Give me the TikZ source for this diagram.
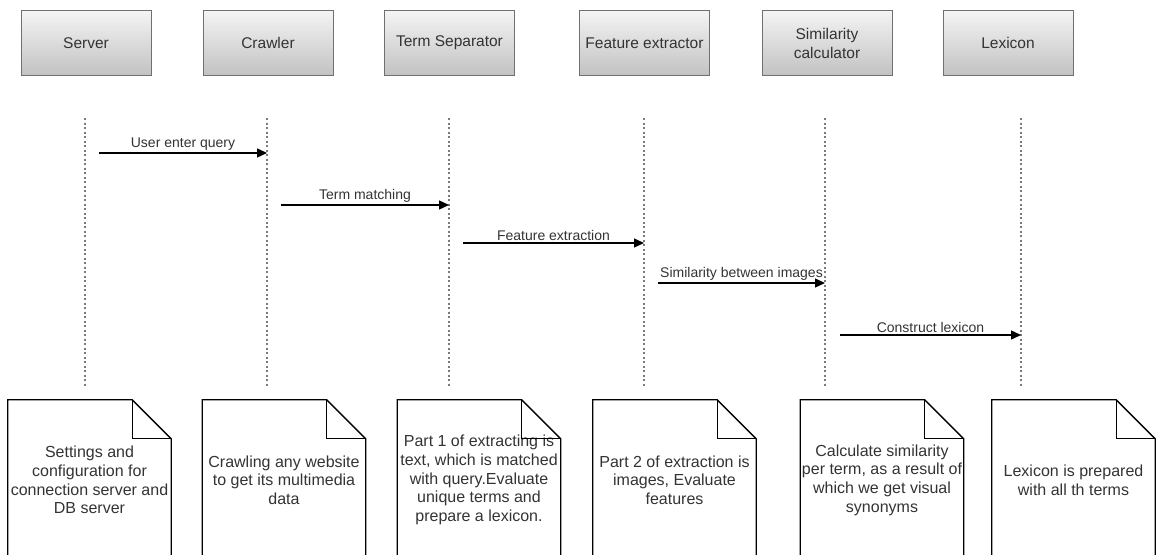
\documentclass[tikz,border=0pt]{standalone}
\usepackage{fontspec}
\setmainfont{Liberation Sans}
\usetikzlibrary{arrows.meta}
\definecolor{txt}{HTML}{333333}
\definecolor{hdrtop}{HTML}{F4F4F4}
\definecolor{hdrbot}{HTML}{C2C2C2}
\definecolor{hdrline}{HTML}{707070}
\definecolor{lifegray}{HTML}{7A7A7A}

\begin{document}
\begin{tikzpicture}[x=1pt,y=-1pt,
  actor/.style={draw=hdrline, line width=1pt, top color=hdrtop, bottom color=hdrbot,
    minimum width=130pt, minimum height=65pt, inner sep=0pt, align=center,
    text=txt, font=\fontsize{15.5}{19}\selectfont},
  lifeline/.style={draw=lifegray, line width=1.2pt, dash pattern=on 2pt off 2.5pt},
  msg/.style={draw=black, line width=1.3pt, -{Triangle[length=10pt,width=9pt]}},
  msglabel/.style={text=txt, font=\fontsize{14}{16}\selectfont, anchor=south, inner sep=2pt},
  note/.style={minimum width=163pt, minimum height=160pt, inner sep=0pt, align=center,
    text=txt, font=\fontsize{16}{18.7}\selectfont},
  noteline/.style={draw=black, line width=1.3pt},
]
\useasboundingbox (0,0) rectangle (1156,554);
\clip (0,0) rectangle (1156,554);

% participants
\node[actor] (server)  at (86,43)    {Server};
\node[actor] (crawler) at (268,43)   {Crawler};
\node[actor] (termsep) at (449.5,43) {Term Separator};
\node[actor] (featext) at (644.5,43) {Feature extractor};
\node[actor] (simcalc) at (827,43)   {Similarity\\calculator};
\node[actor] (lexicon) at (1008,43)  {Lexicon};

% lifelines
\coordinate (serverT)  at (85,118);   \coordinate (serverB)  at (85,386);
\coordinate (crawlerT) at (267,118);  \coordinate (crawlerB) at (267,386);
\coordinate (termsepT) at (449,118);  \coordinate (termsepB) at (449,386);
\coordinate (featextT) at (644,118);  \coordinate (featextB) at (644,386);
\coordinate (simcalcT) at (825,118);  \coordinate (simcalcB) at (825,386);
\coordinate (lexiconT) at (1021,118); \coordinate (lexiconB) at (1021,386);
\foreach \p in {server,crawler,termsep,featext,simcalc,lexicon}
  \draw[lifeline] (\p T) -- (\p B);

% messages
\coordinate (m1a) at (99,153);  \coordinate (m1b) at (267,153);
\coordinate (m2a) at (281,205); \coordinate (m2b) at (449,205);
\coordinate (m3a) at (463,243); \coordinate (m3b) at (644,243);
\coordinate (m4a) at (658,283); \coordinate (m4b) at (825,283);
\coordinate (m5a) at (840,335); \coordinate (m5b) at (1021,335);
\draw[msg] (m1a) -- (m1b) node[midway, msglabel] {User enter query};
\draw[msg] (m2a) -- (m2b) node[midway, msglabel] {Term matching};
\draw[msg] (m3a) -- (m3b) node[midway, msglabel] {Feature extraction};
\draw[msg] (m4a) -- (m4b) node[midway, msglabel] {Similarity between images};
\draw[msg] (m5a) -- (m5b) node[midway, msglabel] {Construct lexicon};

% notes
\node[note] (n1) at (89.5,480)  {Settings and\\configuration for\\connection server and\\DB server};
\node[note] (n2) at (284,480)   {Crawling any website\\to get its multimedia\\data};
\node[note] (n3) at (479,480)   {Part 1 of extracting is\\text, which is matched\\with query.Evaluate\\unique terms and\\prepare a lexicon.};
\node[note] (n4) at (674.5,480) {Part 2 of extraction is\\images, Evaluate\\features};
\node[note] (n5) at (882,480)   {Calculate similarity\\per term, as a result of\\which we get visual\\synonyms};
\node[note] (n6) at (1073.5,480){Lexicon is prepared\\with all th terms};
\foreach \n in {n1,n2,n3,n4,n5,n6} {
  \draw[noteline] (\n.south west) -- (\n.north west) -- ([xshift=-39pt]\n.north east)
    -- ([yshift=-39pt]\n.north east) -- (\n.south east);
  \draw[noteline] ([xshift=-39pt]\n.north east) |- ([yshift=-39pt]\n.north east);
}
\end{tikzpicture}
\end{document}
